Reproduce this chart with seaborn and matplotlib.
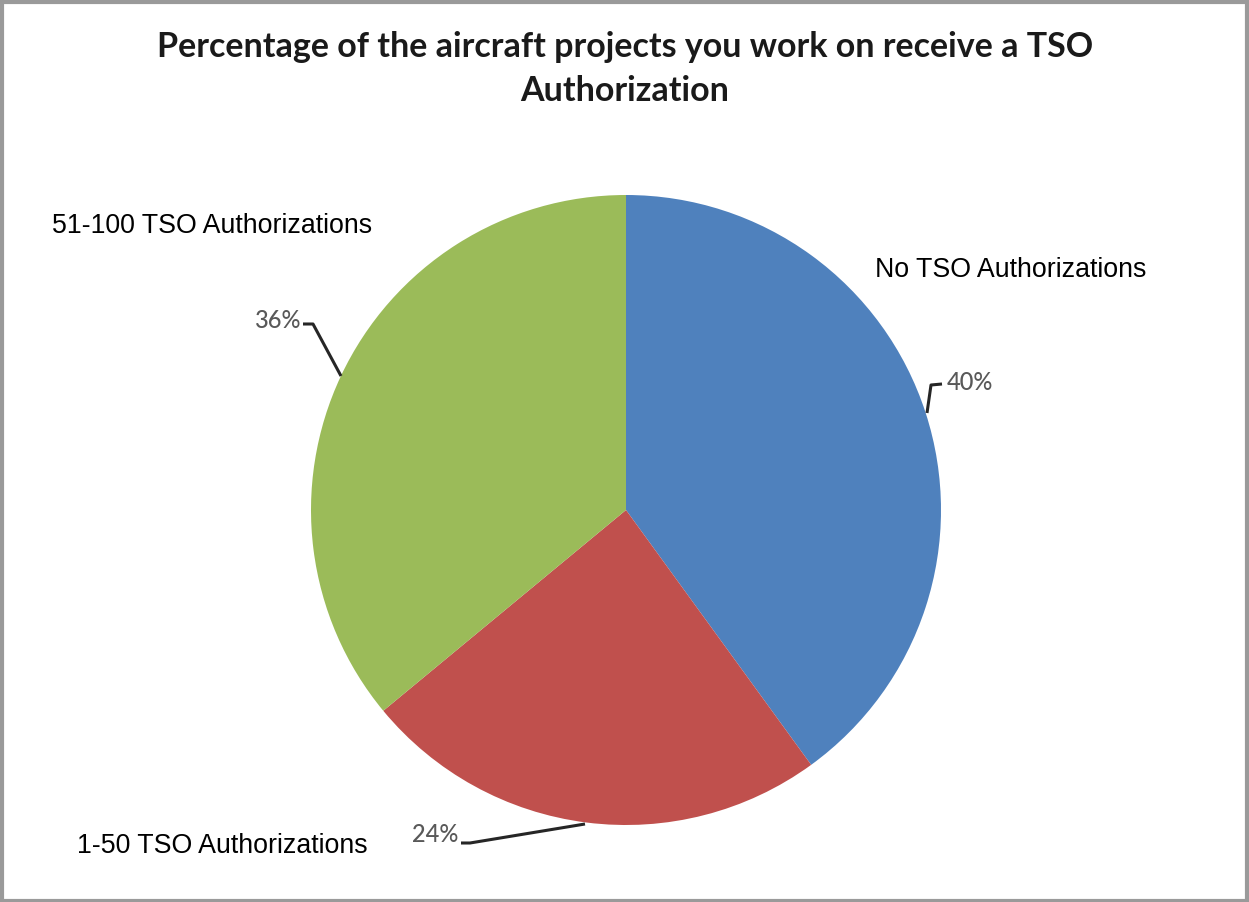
import matplotlib
matplotlib.use("Agg")
import matplotlib.pyplot as plt
import seaborn as sns
from matplotlib.patches import Rectangle

sns.set_theme(style="white")
plt.rcParams["font.family"] = ["Liberation Sans", "DejaVu Sans"]

# Survey answers
categories = ["No TSO Authorizations", "1-50 TSO Authorizations", "51-100 TSO Authorizations"]
shares = [40, 24, 36]
colors = ["#4F81BD", "#C0504D", "#9BBB59"]
title = "Percentage of the aircraft projects you work on receive a TSO\nAuthorization"

W, H = 1249, 902
fig = plt.figure(figsize=(W / 100, H / 100), dpi=100)
ax = fig.add_axes([0, 0, 1, 1])

cx, cy, r = 626, H - 510, 315
wedges, _ = ax.pie(shares, colors=colors, startangle=90, counterclock=False,
                   center=(cx, cy), radius=r, frame=True,
                   wedgeprops=dict(linewidth=0))
ax.set_xlim(0, W)
ax.set_ylim(0, H)
ax.set_aspect("equal")
ax.axis("off")

# Percentage labels with leader lines
pct_kw = dict(color="#595959", fontsize=17, fontweight="medium", va="center",
              family=["Lato", "DejaVu Sans"])
lead = dict(color="#262626", lw=2.2, solid_capstyle="butt")
# 40%
ax.plot([927, 931, 942], [H - 413, H - 385, H - 384], **lead)
ax.text(947, H - 383, f"{shares[0]}%", ha="left", **pct_kw)
# 24%
ax.plot([585, 470, 461], [H - 824, H - 843, H - 843], **lead)
ax.text(458, H - 835, f"{shares[1]}%", ha="right", **pct_kw)
# 36%
ax.plot([341, 313, 303], [H - 376, H - 324, H - 324], **lead)
ax.text(301, H - 321, f"{shares[2]}%", ha="right", **pct_kw)

# Category names
cat_kw = dict(fontsize=19.3, color="black", va="center")
ax.text(875, H - 270, categories[0], ha="left", **cat_kw)
ax.text(77, H - 846, categories[1], ha="left", **cat_kw)
ax.text(52, H - 226, categories[2], ha="left", **cat_kw)

# Title
ax.text(625, H - 69, title, ha="center", va="center", fontsize=24.5,
        fontweight="bold", linespacing=1.45,
        family=["Lato", "DejaVu Sans"], color="#1a1a1a")

# Chart frame
ax.add_patch(Rectangle((2, 1), W - 4, H - 3, fill=False, edgecolor="#9a9a9a", lw=3))

fig.savefig("out.png", dpi=100, facecolor="white")
